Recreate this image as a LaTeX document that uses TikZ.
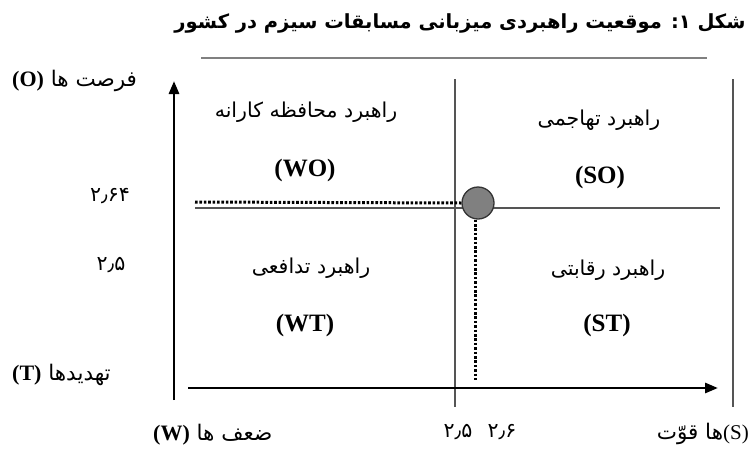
\documentclass[tikz,border=0pt]{standalone}
\usepackage{fontspec}
\setmainfont{Liberation Serif}
\newfontfamily\fa[Script=Arabic]{DejaVu Sans}
\newfontfamily\lat{Liberation Serif}
\TeXXeTstate=1
\usetikzlibrary{arrows.meta}
\definecolor{linegray}{RGB}{85,85,85}
\definecolor{dotgray}{RGB}{128,128,128}
\begin{document}
\begin{tikzpicture}[x=1pt,y=-1pt,
  lbl/.style={inner sep=0pt,font=\fa\fontsize{20.5}{24}\selectfont},
  axlbl/.style={inner sep=0pt,font=\fa\fontsize{21.5}{25}\selectfont},
  latlbl/.style={font=\lat\bfseries\fontsize{22}{25}\selectfont},
  code/.style={inner sep=0pt,font=\lat\bfseries\fontsize{25}{28}\selectfont},
  axis/.style={line width=2.8pt,-{Triangle[length=13pt,width=10pt]}},
  divider/.style={linegray,line width=2pt},
  dots/.style={line width=3pt,dash pattern=on 2.6pt off 1.8pt},
  num/.style={inner sep=0pt,font=\fa\fontsize{20.5}{24}\selectfont}]
\useasboundingbox (0,0) rectangle (750,453);
% title
\node[inner sep=0pt,font=\fa\bfseries\fontsize{19.5}{22}\selectfont] (title) at (460,23) {\beginR شکل ۱: موقعیت راهبردی میزبانی مسابقات سیزم در کشور\endR};
\coordinate (ulL) at (201,58);
\coordinate (ulR) at (707,58);
\draw[gray,line width=2pt] (ulL) -- (ulR);
% frame lines
\coordinate (mTop) at (455,79);
\coordinate (mBot) at (455,407);
\coordinate (rTop) at (733,79);
\coordinate (rBot) at (733,407);
\draw[divider] (mTop) -- (mBot);
\draw[divider] (rTop) -- (rBot);
% axes
\coordinate (vBot) at (174,400);
\coordinate (vTop) at (174,81);
\coordinate (hL) at (188,388);
\coordinate (hR) at (718,388);
\draw[axis] (vBot) -- (vTop);
\draw[axis] (hL) -- (hR);
% horizontal divider
\coordinate (hdL) at (195,207.5);
\coordinate (hdR) at (720,207.5);
\draw[divider] (hdL) -- (hdR);
% position point
\node[circle,draw=black!80,line width=1.3pt,fill=dotgray,minimum size=32pt,inner sep=0pt] (pt) at (478,203) {};
\coordinate (dotL) at (195,202);
\coordinate (dotB) at (475,380);
\draw[dots] (dotL) -- (pt.west);
\draw[dots] (pt.south -| dotB) -- (dotB);
% quadrant labels
\node[lbl] (wol) at (306,112) {\beginR راهبرد محافظه کارانه\endR};
\node[code] (wo) at (305,170) {(WO)};
\node[lbl] (wtl) at (311,268) {\beginR راهبرد تدافعی\endR};
\node[code] (wt) at (305,325) {(WT)};
\node[lbl] (sol) at (599,120) {\beginR راهبرد تهاجمی\endR};
\node[code] (so) at (600,177) {(SO)};
\node[lbl] (stl) at (608,270) {\beginR راهبرد رقابتی\endR};
\node[code] (st) at (607,325) {(ST)};
% axis labels
\node[axlbl,anchor=west] (o) at (12,81) {{\lat\bfseries\fontsize{22}{25}\selectfont(O)} \beginR فرصت ها\endR};
\node[axlbl,anchor=west] (t) at (12,375) {{\lat\bfseries\fontsize{22}{25}\selectfont(T)} \beginR تهدیدها\endR};
\node[axlbl,anchor=west] (w) at (153,435) {{\lat\bfseries\fontsize{22}{25}\selectfont(W)} \beginR ضعف ها\endR};
\node[axlbl,anchor=east] (s) at (749,434) {\beginR قوّت\endR{} \beginR ها\endR{\lat\fontsize{21}{24}\selectfont(S)}};
% numbers
\node[num] (n264) at (110,196) {۲٫۶۴};
\node[num] (n25a) at (111,265) {۲٫۵};
\node[num] (n25b) at (458,432) {۲٫۵};
\node[num] (n26) at (502,432) {۲٫۶};
\end{tikzpicture}
\end{document}
